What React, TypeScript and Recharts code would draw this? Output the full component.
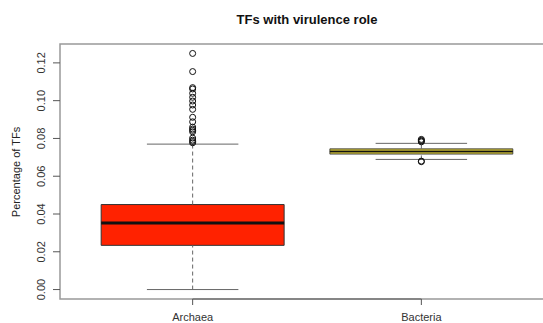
import {
  ComposedChart,
  Scatter,
  XAxis,
  YAxis,
  ReferenceArea,
  ReferenceLine,
  Label,
} from "recharts";

const categories = ["Archaea", "Bacteria"];
// [lower whisker, Q1, median, Q3, upper whisker]
const archaeaStats = [0.0, 0.0234, 0.0352, 0.045, 0.077];
const bacteriaStats = [0.0689, 0.0717, 0.0731, 0.0745, 0.0774];
const archaeaOutliers = [
  0.125, 0.1154, 0.1069, 0.1062, 0.1039, 0.1018, 0.0998, 0.0977, 0.0954,
  0.0912, 0.0888, 0.086, 0.085, 0.0843, 0.0835, 0.0802, 0.0791, 0.0784,
  0.0777,
];
const bacteriaOutliers = [0.0795, 0.079, 0.0786, 0.0782, 0.068, 0.0677];
const yTicks = [0, 0.02, 0.04, 0.06, 0.08, 0.1, 0.12];
const boxColors = ["#FF2200", "#C2B536"];
const medianWidths = [3, 1.3];
const borderWidths = [1, 0.8];

const font = "'Liberation Sans', Arial, Helvetica, sans-serif";

const stats = [archaeaStats, bacteriaStats];
const points = [
  ...archaeaOutliers.map((v) => ({ x: 1, y: v })),
  ...bacteriaOutliers.map((v) => ({ x: 2, y: v })),
];

function YTick(props: any) {
  const { x, y, payload } = props;
  return (
    <g>
      <line x1={53} x2={60} y1={y} y2={y} stroke="#555" />
      <text
        x={x - 7}
        y={y}
        transform={`rotate(-90, ${x - 7}, ${y})`}
        textAnchor="middle"
        fontSize={11}
        fill="#333"
        fontFamily={font}
      >
        {payload.value.toFixed(2)}
      </text>
    </g>
  );
}

function Circle(props: any) {
  const { cx, cy } = props;
  return <circle cx={cx} cy={cy} r={3} fill="none" stroke="#111" strokeWidth={1} />;
}

export default function App() {
  return (
    <div
      style={{
        position: "absolute",
        left: 0,
        top: 0,
        width: 543,
        height: 323,
        overflow: "hidden",
        background: "#fff",
        fontFamily: font,
      }}
    >
      <div
        style={{
          position: "absolute",
          left: 60,
          width: 494,
          top: 12,
          textAlign: "center",
          fontWeight: "bold",
          fontSize: 13,
          color: "#111",
        }}
      >
        TFs with virulence role
      </div>
      <ComposedChart
        width={560}
        height={323}
        margin={{ top: 44, right: 6, bottom: 0, left: 0 }}
      >
        <XAxis
          type="number"
          dataKey="x"
          domain={[0.42, 2.58]}
          ticks={[1, 2]}
          tickFormatter={(v) => categories[v - 1]}
          height={24}
          tickSize={6}
          tickMargin={8}
          axisLine={false}
          tickLine={{ stroke: "#555" }}
          tick={{ fontSize: 11, fill: "#333", fontFamily: font }}
          allowDataOverflow
        />
        <YAxis
          type="number"
          dataKey="y"
          domain={[-0.005, 0.13]}
          ticks={yTicks}
          width={60}
          axisLine={false}
          tickLine={false}
          tick={<YTick />}
          allowDataOverflow
        >
          <Label
            content={() => (
              <text
                x={20}
                y={172}
                transform="rotate(-90, 20, 172)"
                textAnchor="middle"
                fontSize={11}
                fill="#222"
                fontFamily={font}
              >
                Percentage of TFs
              </text>
            )}
          />
        </YAxis>
        <ReferenceArea
          x1={0.42}
          x2={2.58}
          y1={-0.005}
          y2={0.13}
          fill="none"
          stroke="#999"
          strokeWidth={1.5}
          ifOverflow="visible"
        />
        <ReferenceLine
          segment={[
            { x: 1, y: -0.005 },
            { x: 2, y: -0.005 },
          ]}
          stroke="#777"
          strokeWidth={1.5}
        />
        {stats.map((s, i) => {
          const c = i + 1;
          return [
            <ReferenceLine
              key={`wl${i}`}
              segment={[
                { x: c, y: s[0] },
                { x: c, y: s[1] },
              ]}
              stroke="#666"
              strokeDasharray="4 3"
            />,
            <ReferenceLine
              key={`wu${i}`}
              segment={[
                { x: c, y: s[3] },
                { x: c, y: s[4] },
              ]}
              stroke="#666"
              strokeDasharray="4 3"
            />,
            <ReferenceLine
              key={`cl${i}`}
              segment={[
                { x: c - 0.2, y: s[0] },
                { x: c + 0.2, y: s[0] },
              ]}
              stroke="#666"
            />,
            <ReferenceLine
              key={`cu${i}`}
              segment={[
                { x: c - 0.2, y: s[4] },
                { x: c + 0.2, y: s[4] },
              ]}
              stroke="#666"
            />,
            <ReferenceArea
              key={`b${i}`}
              x1={c - 0.4}
              x2={c + 0.4}
              y1={s[1]}
              y2={s[3]}
              fill={boxColors[i]}
              fillOpacity={1}
              stroke="#333"
              strokeWidth={borderWidths[i]}
            />,
            <ReferenceLine
              key={`m${i}`}
              segment={[
                { x: c - 0.4, y: s[2] },
                { x: c + 0.4, y: s[2] },
              ]}
              stroke="#111"
              strokeWidth={medianWidths[i]}
            />,
          ];
        })}
        <Scatter
          data={points}
          shape={<Circle />}
          isAnimationActive={false}
        />
      </ComposedChart>
    </div>
  );
}
